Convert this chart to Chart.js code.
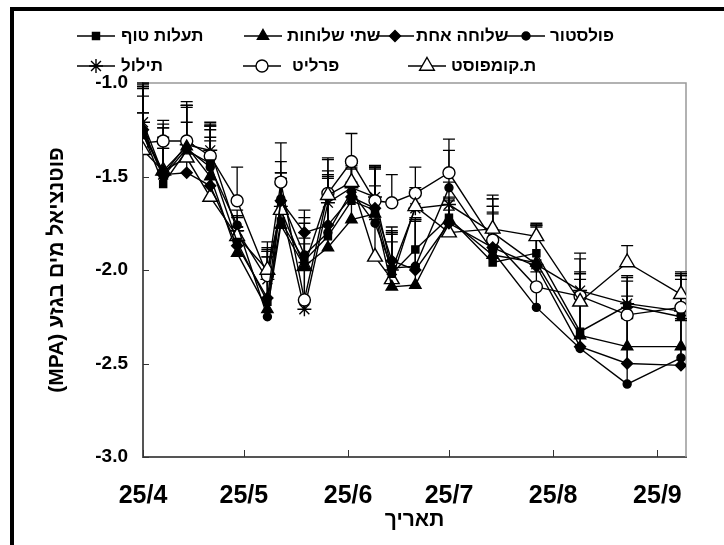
<!DOCTYPE html>
<html lang="he">
<head>
<meta charset="utf-8">
<script src="https://cdn.jsdelivr.net/npm/chart.js@4.4.1/dist/chart.umd.min.js"></script>
<style>
  html, body { margin: 0; padding: 0; background: #fff; }
  #wrap { position: relative; width: 724px; height: 545px; }
</style>
</head>
<body>
<div id="wrap"><canvas id="chart" width="724" height="545"></canvas></div>
<script>
// ---- data (x = days after 25/4) ----
const days = [0, 6, 13, 20, 28, 37, 41, 48, 55, 62, 69, 74, 81, 91, 104, 117, 130, 144, 160];
const tickDays = [0, 30, 61, 91, 122, 153];
const tickLabels = ['25/4', '25/5', '25/6', '25/7', '25/8', '25/9'];
const seriesNames = ['פולסטור', 'שלוחה אחת', 'שתי שלוחות', 'תעלות טוף', 'ת.קומפוסט', 'פרליט', 'תילול'];

const polystor   = [-1.26, -1.50, -1.35, -1.45, -1.76, -2.25, -1.62, -1.92, -1.80, -1.58, -1.75, -1.99, -1.98, -1.56, -1.90, -2.20, -2.42, -2.61, -2.47];
const oneBranch  = [-1.25, -1.49, -1.48, -1.55, -1.87, -2.15, -1.63, -1.80, -1.76, -1.61, -1.67, -1.95, -2.00, -1.75, -1.88, -1.98, -2.41, -2.50, -2.51];
const twoBranch  = [-1.28, -1.47, -1.34, -1.50, -1.91, -2.21, -1.76, -1.98, -1.88, -1.73, -1.70, -2.09, -2.08, -1.73, -1.92, -1.96, -2.35, -2.41, -2.41];
const tuffTrench = [-1.27, -1.54, -1.36, -1.43, -1.85, -2.17, -1.74, -1.95, -1.82, -1.63, -1.68, -2.02, -1.89, -1.72, -1.96, -1.91, -2.33, -2.19, -2.25];
const compost    = [-1.36, -1.47, -1.40, -1.61, -1.82, -2.00, -1.68, -1.98, -1.60, -1.53, -1.93, -2.05, -1.66, -1.80, -1.78, -1.82, -2.17, -1.96, -2.13];
const perlite    = [-1.32, -1.31, -1.31, -1.39, -1.63, -2.03, -1.53, -2.16, -1.59, -1.42, -1.63, -1.64, -1.59, -1.48, -1.84, -2.09, -2.14, -2.24, -2.20];
const ridging    = [-1.21, -1.49, -1.33, -1.36, -1.79, -2.05, -1.66, -2.21, -1.64, -1.56, -1.61, -2.00, -1.67, -1.65, -1.80, -1.97, -2.11, -2.18, -2.22];

// upward error bars
const errPolystor   = [0.26, 0.28, 0.25, 0.24, 0.08, 0.35, 0.20, 0.20, 0.30, 0.15, 0.30, 0.20, 0.25, 0.20, 0.28, 0.10, 0.30, 0.35, 0.20];
const errOneBranch  = [0.22, 0.20, 0.10, 0.30, 0.10, 0.30, 0.15, 0.12, 0.25, 0.15, 0.22, 0.15, 0.28, 0.12, 0.22, 0.22, 0.30, 0.30, 0.25];
const errTwoBranch  = [0.12, 0.12, 0.22, 0.28, 0.12, 0.33, 0.25, 0.15, 0.30, 0.20, 0.25, 0.28, 0.35, 0.12, 0.30, 0.20, 0.30, 0.35, 0.40];
const errTuffTrench = [0.25, 0.30, 0.24, 0.20, 0.08, 0.28, 0.20, 0.20, 0.35, 0.18, 0.24, 0.25, 0.15, 0.10, 0.30, 0.15, 0.32, 0.15, 0.22];
const errCompost    = [0.20, 0.12, 0.28, 0.30, 0.10, 0.10, 0.20, 0.18, 0.20, 0.10, 0.20, 0.20, 0.10, 0.12, 0.18, 0.07, 0.15, 0.09, 0.10];
const errPerlite    = [0.25, 0.11, 0.10, 0.10, 0.18, 0.10, 0.21, 0.30, 0.18, 0.15, 0.08, 0.15, 0.14, 0.18, 0.15, 0.08, 0.20, 0.10, 0.15];
const errRidging    = [0.20, 0.25, 0.20, 0.13, 0.08, 0.12, 0.15, 0.25, 0.15, 0.12, 0.15, 0.20, 0.10, 0.12, 0.10, 0.20, 0.20, 0.15, 0.20];

const FONT = '"Liberation Sans", Arial, "DejaVu Sans", sans-serif';

// marker style per series: [pointStyle, radius, filled]
const markers = [
    ['circle', 4, true],
    ['rectRot', 5.5, true],
    ['triangle', 6.5, true],
    ['rect', 5, true],
    ['triangle', 8.5, false],
    ['circle', 6, false],
    ['star', 7, false],
];
const values = [polystor, oneBranch, twoBranch, tuffTrench, compost, perlite, ridging];
const errors = [errPolystor, errOneBranch, errTwoBranch, errTuffTrench, errCompost, errPerlite, errRidging];

const datasets = seriesNames.map((name, i) => ({
    label: name,
    data: days.map((d, j) => ({ x: d, y: values[i][j] })),
    errors: errors[i],
    borderColor: '#000',
    borderWidth: 1.4,
    tension: 0,
    pointStyle: markers[i][0],
    pointRadius: markers[i][1],
    pointHoverRadius: markers[i][1],
    pointBackgroundColor: markers[i][2] ? '#000' : '#fff',
    pointBorderColor: '#000',
    pointBorderWidth: 1.4,
}));

// legend slots (row layout like the original, items placed right to left)
const legendSlots = [
    { mx: 526, y: 36, tx: 550 },
    { mx: 395, y: 36, tx: 416 },
    { mx: 263, y: 36, tx: 287 },
    { mx: 96,  y: 36, tx: 121 },
    { mx: 427, y: 66, tx: 451 },
    { mx: 262, y: 66, tx: 292 },
    { mx: 96,  y: 66, tx: 121 },
];

const legendPlugin = {
    id: 'rowLegend',
    afterDraw(chart) {
        const ctx = chart.ctx;
        ctx.save();
        chart.data.datasets.forEach((ds, i) => {
            const s = legendSlots[i];
            ctx.strokeStyle = '#000';
            ctx.lineWidth = 1.4;
            ctx.beginPath();
            ctx.moveTo(s.mx - 19, s.y);
            ctx.lineTo(s.mx + 19, s.y);
            ctx.stroke();
            ctx.fillStyle = ds.pointBackgroundColor;
            Chart.helpers.drawPoint(ctx, {
                pointStyle: ds.pointStyle, radius: ds.pointRadius, borderWidth: 1.4, rotation: 0
            }, s.mx, s.y);
            ctx.fillStyle = '#000';
            ctx.font = 'bold 17px ' + FONT;
            ctx.textAlign = 'left';
            ctx.textBaseline = 'middle';
            ctx.fillText(ds.label, s.tx, s.y);
        });
        ctx.restore();
    }
};

const errorBarPlugin = {
    id: 'errorBars',
    beforeDatasetsDraw(chart) {
        const { ctx, scales: { x, y } } = chart;
        ctx.save();
        ctx.strokeStyle = '#000';
        ctx.lineWidth = 1.3;
        chart.data.datasets.forEach(ds => {
            ds.errors.forEach((e, j) => {
                const p = ds.data[j];
                const px = x.getPixelForValue(p.x);
                const y0 = y.getPixelForValue(p.y);
                const y1 = y.getPixelForValue(p.y + e);
                ctx.beginPath();
                ctx.moveTo(px, y0);
                ctx.lineTo(px, y1);
                ctx.moveTo(px - 6, y1);
                ctx.lineTo(px + 6, y1);
                ctx.stroke();
            });
        });
        ctx.restore();
    }
};

// inner tick marks, plot frame and the outer black border
const framePlugin = {
    id: 'frame',
    beforeDatasetsDraw(chart) {
        const { ctx, chartArea: a, scales: { x, y } } = chart;
        ctx.save();
        ctx.strokeStyle = '#999';
        ctx.lineWidth = 1.5;
        ctx.beginPath();
        ctx.moveTo(a.left, a.top);
        ctx.lineTo(a.right, a.top);
        ctx.lineTo(a.right, a.bottom);
        ctx.stroke();
        ctx.strokeStyle = '#333';
        ctx.lineWidth = 1;
        y.ticks.forEach(t => {
            const py = Math.round(y.getPixelForValue(t.value)) + 0.5;
            ctx.beginPath();
            ctx.moveTo(a.left, py);
            ctx.lineTo(a.left + 6, py);
            ctx.stroke();
        });
        tickDays.forEach(d => {
            const px = Math.round(x.getPixelForValue(d)) + 0.5;
            ctx.beginPath();
            ctx.moveTo(px, a.bottom);
            ctx.lineTo(px, a.bottom - 7);
            ctx.stroke();
        });
        ctx.restore();
    },
    afterDraw(chart) {
        const ctx = chart.ctx;
        ctx.save();
        ctx.fillStyle = '#000';
        ctx.fillRect(10, 7, 4, 538);
        ctx.fillRect(10, 7, 714, 4);
        ctx.restore();
    }
};

new Chart(document.getElementById('chart'), {
    type: 'line',
    data: { datasets },
    plugins: [framePlugin, errorBarPlugin, legendPlugin],
    options: {
        responsive: false,
        animation: false,
        layout: { padding: { top: 83, right: 38, bottom: 0, left: 0 } },
        plugins: {
            legend: { display: false },
            tooltip: { enabled: false },
        },
        scales: {
            x: {
                type: 'linear',
                min: 0,
                max: 161.5,
                afterFit: s => { s.height = 88; },
                afterBuildTicks: s => { s.ticks = tickDays.map(v => ({ value: v })); },
                grid: { display: false, drawTicks: false },
                border: { display: true, color: '#555', width: 2 },
                ticks: {
                    autoSkip: false,
                    maxRotation: 0,
                    padding: 24,
                    color: '#000',
                    font: { family: FONT, size: 25, weight: 'bold' },
                    callback: v => tickLabels[tickDays.indexOf(v)],
                },
                title: {
                    display: true,
                    text: 'תאריך',
                    color: '#000',
                    font: { family: FONT, size: 21, weight: 'bold' },
                    padding: { top: 0, bottom: 12 },
                },
            },
            y: {
                min: -3,
                max: -1,
                afterFit: s => { s.width = 143; },
                grid: { display: false, drawTicks: false },
                border: { display: true, color: '#555', width: 2 },
                ticks: {
                    stepSize: 0.5,
                    padding: 15,
                    color: '#000',
                    font: { family: FONT, size: 19, weight: 'bold' },
                    callback: v => v.toFixed(1),
                },
                title: {
                    display: true,
                    text: '(MPA) פוטנציאל מים בגזע',
                    color: '#000',
                    font: { family: FONT, size: 21, weight: 'bold' },
                    padding: { top: 45, bottom: 0 },
                },
            },
        },
    },
});
</script>
</body>
</html>
